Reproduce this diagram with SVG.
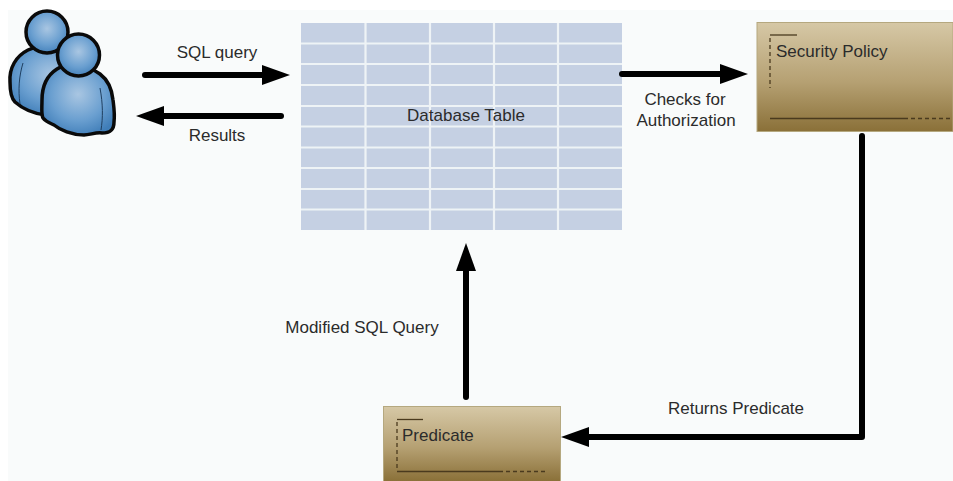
<svg xmlns="http://www.w3.org/2000/svg" width="953" height="481" viewBox="0 0 953 481">
<defs>
<linearGradient id="box" x1="0" y1="0" x2="0" y2="1"><stop offset="0" stop-color="#d6c8a6"/><stop offset="0.55" stop-color="#b5a072"/><stop offset="1" stop-color="#8a7038"/></linearGradient>
<radialGradient id="skin" cx="0.5" cy="0.42" r="0.62"><stop offset="0" stop-color="#a9c6e2"/><stop offset="0.6" stop-color="#6a9fd0"/><stop offset="1" stop-color="#3f7db8"/></radialGradient>
<marker id="ah" markerUnits="userSpaceOnUse" markerWidth="30" markerHeight="22" refX="4" refY="10" orient="auto"><path d="M0 0L28 10L0 20Z" fill="#000"/></marker>
</defs>
<style>
text{font-family:"Liberation Sans",Arial,sans-serif;font-size:17px;fill:#2b2b2b}
.conn{fill:none;stroke:#000;stroke-width:6;stroke-linecap:round;stroke-linejoin:round;marker-end:url(#ah)}
.box{fill:url(#box);stroke:#b5a87f;stroke-width:1}
.in{fill:none;stroke:#4a3a1e;stroke-width:1.3}
.dash{stroke-dasharray:4 3}
.p{fill:url(#skin);stroke:#0a0a0a;stroke-width:3.5}
.fold{fill:none;stroke:#1f3f60;stroke-width:1}
.grid{stroke:#eef3f6;stroke-width:2.2}
</style>
<rect width="953" height="481" fill="#fff"/>
<rect x="8" y="10" width="945" height="471" fill="#f9fbfb"/>
<g id="users">
<path class="p" d="M28 50C16 56 9 68 10 82C10 92 11 98 15 102C24 110 36 114 46 115L92 62C70 46 44 42 28 50Z"/>
<path class="fold" d="M23 63C19 76 18 90 20 104"/>
<circle class="p" cx="47" cy="32" r="21"/>
<path class="p" d="M57 69C46 76 42 88 42 100C42 108 41 114 43 118C46 122 50 123 54 125C60 130 72 135 84 135C90 135 96 132 102 133C110 133 114 130 114 122C115 114 114 108 113 100C112 90 108 80 100 74C86 64 68 62 57 69Z"/>
<path class="fold" d="M100 88C103 104 103 118 101 130"/>
<circle class="p" cx="78.500" cy="55" r="21"/>
</g>
<g id="table">
<rect x="301" y="23" width="321" height="207" fill="#c5d0e3"/>
<path class="grid" d="M365.500 23V230M430 23V230M494 23V230M558 23V230M301 43.500H622M301 64H622M301 85H622M301 106H622M301 126.500H622M301 147.500H622M301 168H622M301 189H622M301 209.500H622"/>
<text x="466" y="121" text-anchor="middle">Database Table</text>
</g>
<g id="security-policy">
<rect class="box" x="757" y="22.500" width="196" height="109"/>
<path class="in" d="M770 35H797"/>
<path class="in dash" d="M770 38V88"/>
<path class="in" d="M770 118.500H904"/>
<path class="in dash" d="M904 118.500H951"/>
<text x="776" y="56.500">Security Policy</text>
</g>
<g id="predicate">
<rect class="box" x="383.500" y="406.500" width="177" height="75"/>
<path class="in" d="M397 419.500H423"/>
<path class="in dash" d="M397 422V471"/>
<path class="in" d="M397 471.500H499"/>
<path class="in dash" d="M499 471.500H547"/>
<text x="402" y="440.500">Predicate</text>
</g>
<g id="connectors">
<path class="conn" d="M145 75H266"/>
<path class="conn" d="M281 116H160"/>
<path class="conn" d="M622 74H724"/>
<path class="conn" d="M862 136V437H585"/>
<path class="conn" d="M466 397V267"/>
</g>
<g id="labels">
<text x="217" y="58" text-anchor="middle">SQL query</text>
<text x="217" y="141" text-anchor="middle">Results</text>
<text x="685" y="105" text-anchor="middle">Checks for</text>
<text x="686" y="126" text-anchor="middle">Authorization</text>
<text x="362" y="333" text-anchor="middle">Modified SQL Query</text>
<text x="736" y="414" text-anchor="middle">Returns Predicate</text>
</g>
</svg>
